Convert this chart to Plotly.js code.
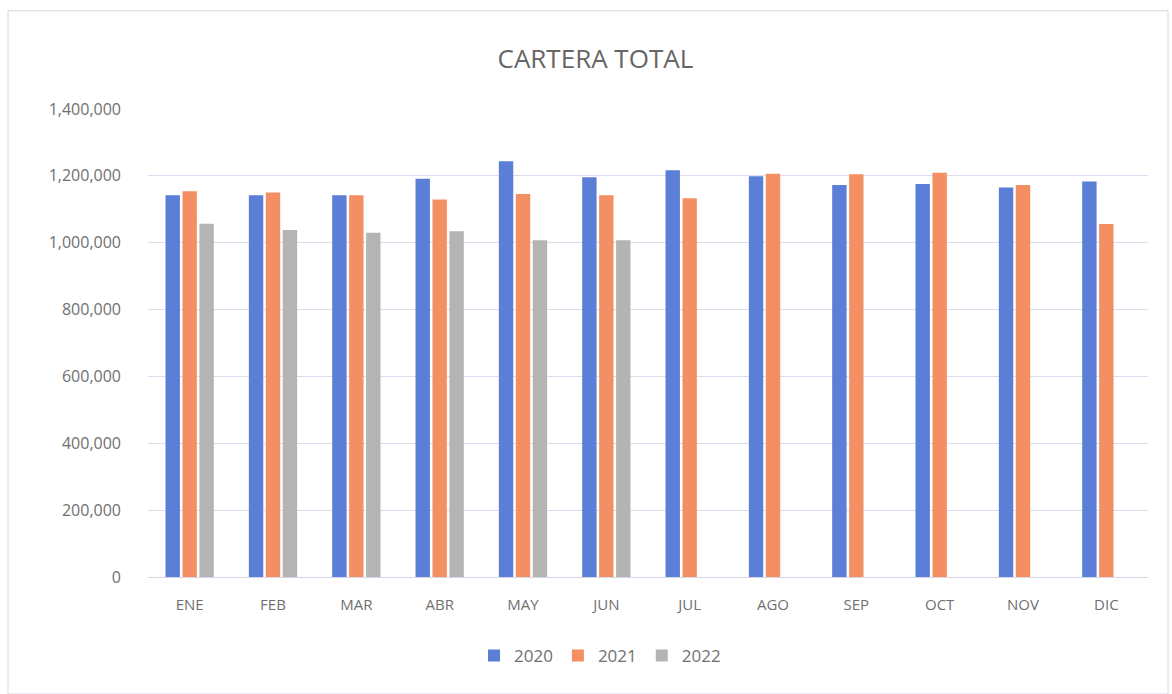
<!DOCTYPE html>
<html><head><meta charset="utf-8">
<script src="https://cdn.plot.ly/plotly-3.0.1.min.js"></script>
<style>html,body{margin:0;padding:0;background:#fff;}#chart{width:1172px;height:694px;}</style>
</head><body><div id="chart"></div>
<script>
const months = ["ENE","FEB","MAR","ABR","MAY","JUN","JUL","AGO","SEP","OCT","NOV","DIC"];
const v2020 = [1142000,1142000,1142000,1191000,1244000,1196000,1217000,1199000,1173000,1176000,1165000,1183000];
const v2021 = [1154000,1150000,1142000,1129000,1146000,1142000,1133000,1206000,1205000,1209000,1173000,1056000];
const v2022 = [1057000,1038000,1030000,1034000,1007000,1007000,null,null,null,null,null,null];
const seriesNames = ["2020","2021","2022"];
const colors = ["#5b7fd6","#f48f64","#b4b4b4"];
const data = [v2020,v2021,v2022].map((y,i)=>({
  type:"bar", x:months, y:y, name:seriesNames[i], marker:{color:colors[i]}, hoverinfo:"x+y"
}));
const layout = {
  width:1172, height:694,
  paper_bgcolor:"#fff", plot_bgcolor:"#fff",
  font:{family:"Open Sans, Liberation Sans, sans-serif", color:"#707070", size:15},
  title:{text:"CARTERA TOTAL", x:0.508, xanchor:"center", y:0.915, yanchor:"middle",
         font:{size:26, color:"#666", family:"Open Sans, Liberation Sans, sans-serif"}},
  margin:{l:148, r:24, t:109, b:117},
  barmode:"group", bargap:0.39, bargroupgap:0.15,
  xaxis:{showgrid:false, showline:true, linecolor:"#d6d6e6", linewidth:1, ticks:"",
         ticklabelstandoff:14, tickfont:{size:15, color:"#707070"}},
  yaxis:{range:[0,1400000], dtick:200000, tickformat:",d", showgrid:true, gridcolor:"#dcdcee",
         gridwidth:1, zeroline:false, showline:false, ticks:"", ticklen:0,
         ticklabelstandoff:26, tickfont:{size:16, color:"#707070"}},
  legend:{orientation:"h", x:0.452, xanchor:"center", y:-0.13, yanchor:"top",
          font:{size:17, color:"#707070"}, itemwidth:30},
  shapes:[{type:"rect", xref:"paper", yref:"paper", x0:-0.14, x1:1.02, y0:-0.25, y1:1.21,
           line:{color:"#d8d8e4", width:1}}],
  showlegend:true
};
Plotly.newPlot("chart", data, layout, {displayModeBar:false, staticPlot:true});
</script></body></html>
